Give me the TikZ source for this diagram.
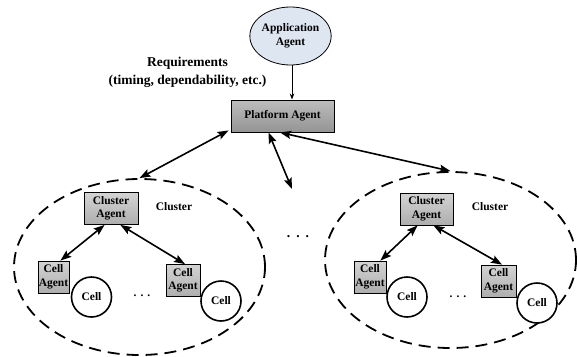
\documentclass[tikz,border=0pt]{standalone}
\usepackage{fontspec}
\setmainfont{Liberation Serif}
\usetikzlibrary{arrows.meta,shapes.geometric}
\definecolor{appblue}{RGB}{222,230,242}
\begin{document}
\begin{tikzpicture}[x=1pt,y=-1pt,
  txt/.style={font=\fontsize{11.5}{13.5}\selectfont\bfseries, align=center, inner sep=0pt},
  bigtxt/.style={font=\fontsize{13.5}{18.5}\selectfont\bfseries, align=center, inner sep=0pt},
  platbox/.style={txt, draw=black, line width=0.9pt, top color=black!26, bottom color=black!42, minimum width=103pt, minimum height=32pt},
  agentbox/.style={txt, draw=black, line width=0.8pt, top color=black!17, bottom color=black!32, minimum height=32pt},
  cellnode/.style={txt, circle, draw=black, line width=1.6pt, minimum size=40pt, fill=white},
  clusterell/.style={ellipse, draw=black, line width=1.8pt, dash pattern=on 12pt off 7pt, minimum width=251pt, minimum height=176pt, inner sep=0pt},
  appell/.style={txt, ellipse, draw=black, line width=0.8pt, fill=appblue, minimum width=73pt, minimum height=58pt},
  dbl/.style={line width=1.6pt, {Stealth[length=11pt,width=8pt,inset=2pt]}-{Stealth[length=11pt,width=8pt,inset=2pt]}},
  thin/.style={line width=0.8pt, -{Stealth[length=6pt,width=4.5pt]}}
]
\useasboundingbox (0,0) rectangle (577,356);

% cluster ellipses
\node[clusterell] (lcl) at (139.5,267) {};
\node[clusterell] (rcl) at (450.5,260) {};

% top
\node[appell] (app) at (290.5,36) {Application\\Agent};
\node[platbox] (plat) at (282.5,116) {Platform Agent};
\node[bigtxt] (req) at (187.5,72.5) {Requirements\\(timing, dependability, etc.)};
\draw[thin] ([xshift=1.5pt]app.south) -- ([xshift=1.5pt]app.south |- plat.north);

% left cluster
\node[agentbox, minimum width=54pt] (lca) at (111,208.5) {Cluster\\Agent};
\node[txt] (lclab) at (174,207) {Cluster};
\node[agentbox, minimum width=31pt] (lce1) at (53.5,277) {Cell\\Agent};
\node[agentbox, minimum width=34pt] (lce2) at (183,280.5) {Cell\\Agent};
\node[cellnode] (lc1) at (91.5,297) {Cell};
\node[cellnode] (lc2) at (221,301) {Cell};
\node[txt] (ldots) at (142,296) {.\hspace{4pt}.\hspace{4pt}.};

% right cluster
\node[agentbox, minimum width=53pt] (rca) at (426.5,209) {Cluster\\Agent};
\node[txt] (rclab) at (490,207) {Cluster};
\node[agentbox, minimum width=32pt] (rce1) at (370,277) {Cell\\Agent};
\node[agentbox, minimum width=35pt] (rce2) at (498.5,281) {Cell\\Agent};
\node[cellnode] (rc1) at (407,297) {Cell};
\node[cellnode] (rc2) at (537,303) {Cell};
\node[txt] (rdots) at (458,297) {.\hspace{4pt}.\hspace{4pt}.};

% middle dots
\node[bigtxt] (mdots) at (298,237) {.\hspace{6pt}.\hspace{6pt}.};
\coordinate (mend) at (292,189);

% platform arrows
\draw[dbl] ([xshift=-2pt,yshift=2pt]plat.south west) -- (lcl.north);
\draw[dbl] ([xshift=-14pt]plat.south) -- (mend);
\draw[dbl] ([xshift=-2.5pt]plat.south) -- (rcl.north);

% cluster arrows
\draw[dbl] ([xshift=21pt]lca.south west) -- ([xshift=-9pt]lce1.north east);
\draw[dbl] ([xshift=-18pt]lca.south east) -- ([xshift=2pt]lce2.north);
\draw[dbl] ([xshift=18pt]rca.south west) -- ([xshift=-6pt]rce1.north east);
\draw[dbl] ([xshift=-20pt]rca.south east) -- ([xshift=3.5pt]rce2.north);
\end{tikzpicture}
\end{document}
